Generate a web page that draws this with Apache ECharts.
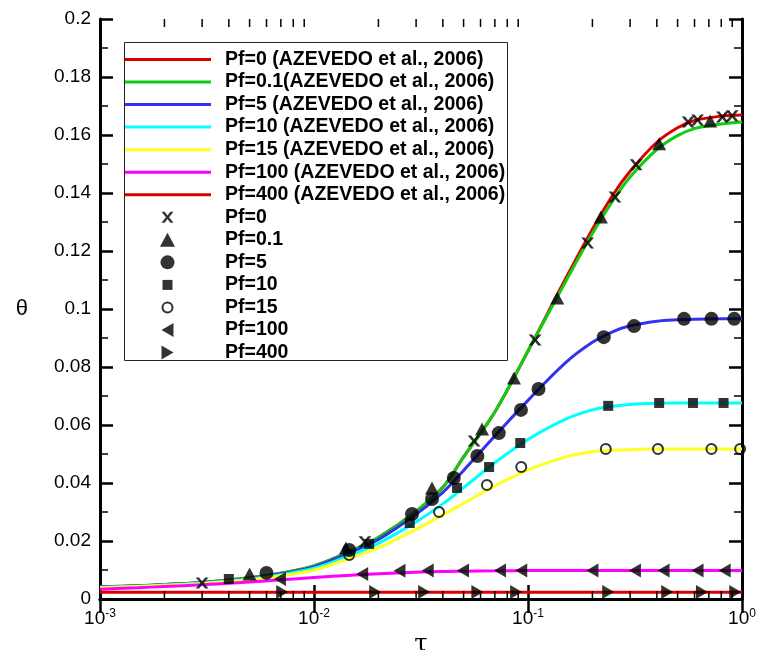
<!DOCTYPE html>
<html>
<head>
<meta charset="utf-8">
<script src="https://cdn.jsdelivr.net/npm/echarts@6/dist/echarts.min.js"></script>
<style>
html,body{margin:0;padding:0;background:#fff;}
#chart{width:758px;height:650px;}
</style>
</head>
<body>
<div id="chart"></div>
<script>
// ---------- data ----------
const TAU = [0.001,0.0015,0.002,0.003,0.005,0.007,0.01,0.015,0.02,0.03,0.04,0.05,0.07,0.1,0.15,0.2,0.25,0.3,0.4,0.5,0.6,0.8,1.0];
const CURVE_PF0   = [0.0042,0.0046,0.0050,0.0057,0.0073,0.0089,0.0114,0.0167,0.0212,0.0302,0.0385,0.0490,0.0645,0.0855,0.1105,0.1275,0.1395,0.1475,0.1575,0.1625,0.1650,0.1665,0.1669];
const CURVE_PF01  = [0.0042,0.0046,0.0050,0.0057,0.0073,0.0089,0.0114,0.0167,0.0212,0.0302,0.0385,0.0490,0.0645,0.0855,0.1095,0.1260,0.1375,0.1455,0.1550,0.1598,0.1622,0.1638,0.1645];
const CURVE_PF5   = [0.0041,0.0045,0.0049,0.0056,0.0071,0.0087,0.0111,0.0162,0.0205,0.0292,0.0368,0.0443,0.0562,0.0685,0.0815,0.0885,0.0922,0.0942,0.0958,0.0963,0.0965,0.0966,0.0966];
const CURVE_PF10  = [0.0040,0.0044,0.0048,0.0055,0.0069,0.0084,0.0106,0.0153,0.0192,0.0266,0.0328,0.0384,0.0470,0.0550,0.0620,0.0652,0.0665,0.0671,0.0675,0.0676,0.0676,0.0676,0.0676];
const CURVE_PF15  = [0.0039,0.0043,0.0047,0.0053,0.0066,0.0080,0.0100,0.0143,0.0177,0.0240,0.0290,0.0330,0.0390,0.0445,0.0490,0.0508,0.0513,0.0515,0.0517,0.0517,0.0517,0.0517,0.0517];
const CURVE_PF100 = [0.0034,0.0039,0.0043,0.0049,0.0059,0.0066,0.0074,0.0082,0.0087,0.0092,0.0095,0.0096,0.0097,0.0098,0.0098,0.0098,0.0098,0.0098,0.0098,0.0098,0.0098,0.0098,0.0098];
const CURVE_PF400 = [0.0023,0.0023,0.0023,0.0023,0.0023,0.0023,0.0023,0.0023,0.0023,0.0023,0.0023,0.0023,0.0023,0.0023,0.0023,0.0023,0.0023,0.0023,0.0023,0.0023,0.0023,0.0023,0.0023];

const PTS_PF0_TAU   = [0.003,0.0173,0.056,0.108,0.19,0.255,0.32,0.56,0.62,0.81,0.90];
const PTS_PF0_THETA = [0.0055,0.0197,0.0545,0.0893,0.1228,0.1386,0.1497,0.1645,0.1652,0.1662,0.1666];
const PTS_PF01_TAU   = [0.005,0.0141,0.0356,0.061,0.086,0.137,0.219,0.41,0.71];
const PTS_PF01_THETA = [0.0086,0.0176,0.0383,0.0586,0.0762,0.1038,0.1317,0.157,0.1648];
const PTS_PF5_TAU   = [0.006,0.0146,0.0287,0.0356,0.045,0.058,0.073,0.0927,0.112,0.226,0.313,0.536,0.72,0.92];
const PTS_PF5_THETA = [0.009,0.0169,0.0293,0.0345,0.0417,0.0493,0.0572,0.0652,0.0724,0.0903,0.0941,0.0966,0.0966,0.0966];
const PTS_PF10_TAU   = [0.004,0.0181,0.028,0.0466,0.0658,0.092,0.237,0.41,0.59,0.82];
const PTS_PF10_THETA = [0.0069,0.019,0.0262,0.0383,0.0455,0.0538,0.0666,0.0676,0.0676,0.0676];
const PTS_PF15_TAU   = [0.0146,0.0384,0.0643,0.093,0.231,0.405,0.72,0.98];
const PTS_PF15_THETA = [0.0152,0.030,0.0393,0.0455,0.0517,0.0517,0.0517,0.0517];
const PTS_PF100_TAU   = [0.00693,0.0168,0.0251,0.034,0.0497,0.074,0.093,0.20,0.316,0.43,0.62,0.83];
const PTS_PF100_THETA = [0.0069,0.0086,0.0097,0.0098,0.0098,0.0098,0.0098,0.0098,0.0098,0.0098,0.0098,0.0098];
const PTS_PF400_TAU   = [0.0071,0.0193,0.0327,0.058,0.088,0.237,0.447,0.65,0.93];
const PTS_PF400_THETA = [0.0024,0.0024,0.0024,0.0024,0.0024,0.0024,0.0024,0.0024,0.0024];

const X_MINOR_TICKS = [0.002,0.003,0.004,0.005,0.006,0.007,0.008,0.009,0.02,0.03,0.04,0.05,0.06,0.07,0.08,0.09,0.2,0.3,0.4,0.5,0.6,0.7,0.8,0.9];

const CURVE_NAMES = ['Pf=0 (AZEVEDO et al., 2006)','Pf=0.1(AZEVEDO et al., 2006)','Pf=5 (AZEVEDO et al., 2006)','Pf=10 (AZEVEDO et al., 2006)','Pf=15 (AZEVEDO et al., 2006)','Pf=100 (AZEVEDO et al., 2006)','Pf=400 (AZEVEDO et al., 2006)'];
const POINT_NAMES = ['Pf=0','Pf=0.1','Pf=5','Pf=10','Pf=15','Pf=100','Pf=400'];

// ---------- build ----------
const FONT = '"Liberation Sans", Arial, Helvetica, sans-serif';
const curveColors = ['#dd0000','#11cc11','#3333ee','#00ffff','#ffff22','#ff00ff','#dd0000'];
const curves = [CURVE_PF0,CURVE_PF01,CURVE_PF5,CURVE_PF10,CURVE_PF15,CURVE_PF100,CURVE_PF400];
const pts = [
  [PTS_PF0_TAU,PTS_PF0_THETA],[PTS_PF01_TAU,PTS_PF01_THETA],[PTS_PF5_TAU,PTS_PF5_THETA],
  [PTS_PF10_TAU,PTS_PF10_THETA],[PTS_PF15_TAU,PTS_PF15_THETA],[PTS_PF100_TAU,PTS_PF100_THETA],[PTS_PF400_TAU,PTS_PF400_THETA]
];
const X_SYM = 'path://M-0.5,-1.5M12.5,12.5M0,0L3.2,0L6,3.8L8.8,0L12,0L7.6,5.5L12,11L8.8,11L6,7.2L3.2,11L0,11L4.4,5.5Z';
const TRI_SYM = 'path://M7,0L14,13L0,13Z';
const SQ_SYM = 'path://M0,0M14,14M2,2L12,2L12,12L2,12Z';
const OC_SYM = 'path://M0,0M14,14M7,2A5,5,0,1,1,6.99,2Z';
const LEFT_SYM = 'path://M12,0L12,14L0,7Z';
const RIGHT_SYM = 'path://M0,0L12,7L0,14Z';
const LINE_ICON = 'path://M0,0L87,0L87,3L0,3Z';
const markerDefs = [
  {symbol:X_SYM, size:14, style:{color:'#000'}},
  {symbol:TRI_SYM, size:[14,13], style:{color:'#000'}},
  {symbol:'circle', size:14, style:{color:'#000'}},
  {symbol:SQ_SYM, size:14, style:{color:'#000'}},
  {symbol:OC_SYM, size:14, style:{color:'rgba(255,255,255,0)', borderColor:'#000', borderWidth:2}},
  {symbol:LEFT_SYM, size:[12,14], style:{color:'#000'}},
  {symbol:RIGHT_SYM, size:[12,14], style:{color:'#000'}}
];

const series = [];
curves.forEach((c, k) => {
  series.push({
    name: CURVE_NAMES[k], type:'line', symbol:'none', showSymbol:false, smooth:0.35,
    data: TAU.map((t,i)=>[t,c[i]]),
    lineStyle:{color:curveColors[k], width:3},
    itemStyle:{color:curveColors[k]},
    z: 2 + k*0.01, silent:true, animation:false
  });
});
pts.forEach((p, k) => {
  const m = markerDefs[k];
  series.push({
    name: POINT_NAMES[k], type:'scatter', symbol:m.symbol, symbolSize:m.size,
    data: p[0].map((t,i)=>[t,p[1][i]]),
    itemStyle: m.style, z: 4, silent:true, animation:false
  });
});
series.push({
  type:'custom', silent:true, clip:false, z:6, animation:false,
  data: X_MINOR_TICKS.map(t=>[t,0]),
  renderItem: function(params, api){
    const x = api.coord([api.value(0), 0])[0];
    const cs = params.coordSys;
    const b = cs.y + cs.height;
    return {type:'group', children:[
      {type:'line', shape:{x1:x,y1:b,x2:x,y2:b-8}, style:{stroke:'#000', lineWidth:1.5}},
      {type:'line', shape:{x1:x,y1:cs.y,x2:x,y2:cs.y+8}, style:{stroke:'#000', lineWidth:1.5}}
    ]};
  }
});

const axisLineStyle = {show:true, lineStyle:{color:'#000', width:3}};
const xBase = {
  type:'log', logBase:10, min:0.001, max:1,
  axisLine: axisLineStyle,
  axisTick:{show:true, inside:true, length:14, lineStyle:{color:'#000', width:2.5}},
  splitLine:{show:false}, minorTick:{show:false}, minorSplitLine:{show:false}
};
const yBase = {
  type:'value', min:0, max:0.2, interval:0.02,
  axisLine: axisLineStyle,
  axisTick:{show:true, inside:true, length:13, lineStyle:{color:'#000', width:2.5}},
  minorTick:{show:true, splitNumber:2, length:8, lineStyle:{color:'#000', width:1.5}},
  splitLine:{show:false}
};

const legendData = CURVE_NAMES.map(n => ({name:n, icon:LINE_ICON})).concat(POINT_NAMES.map(n => ({name:n})));

const chart = echarts.init(document.getElementById('chart'), null, {renderer:'canvas'});
chart.setOption({
  backgroundColor:'#fff',
  animation:false,
  grid:{left:100, right:16, top:19, bottom:51, containLabel:false, outerBoundsMode:'none'},
  xAxis:[
    Object.assign({}, xBase, {
      position:'bottom',
      name:'τ', nameLocation:'middle', nameGap:17,
      nameTextStyle:{fontFamily:'"DejaVu Serif", serif', fontSize:24, color:'#000'},
      axisLabel:{
        show:true, margin:9, color:'#000',
        formatter: function(v){ const e = Math.round(Math.log10(v)); return '{b|10}{s|' + e + '}'; },
        rich:{
          b:{fontFamily:FONT, fontSize:19, color:'#000'},
          s:{fontFamily:FONT, fontSize:12, color:'#000', padding:[0,0,9,0]}
        }
      }
    }),
    Object.assign({}, xBase, {position:'top', axisLabel:{show:false}})
  ],
  yAxis:[
    Object.assign({}, yBase, {
      position:'left',
      name:'θ', nameLocation:'middle', nameGap:72, nameRotate:0,
      nameTextStyle:{fontFamily:FONT, fontSize:22, color:'#000'},
      axisLabel:{show:true, margin:9, color:'#000', fontFamily:FONT, fontSize:19,
        formatter:function(v){ return String(Math.round(v*100)/100); }}
    }),
    Object.assign({}, yBase, {position:'right', axisLabel:{show:false}})
  ],
  legend:{
    show:true, orient:'vertical', left:124, top:49.5, padding:0,
    itemWidth:87, itemHeight:14, itemGap:2.54,
    selectedMode:false,
    data: legendData,
    textStyle:{fontFamily:FONT, fontSize:19.5, fontWeight:'bold', color:'#000', lineHeight:20, padding:[0,0,0,9]}
  },
  graphic:[
    {type:'rect', shape:{x:124.5, y:42.5, width:383, height:318}, style:{fill:'none', stroke:'#222', lineWidth:1}, z:10, silent:true}
  ],
  series: series
});
</script>
</body>
</html>
